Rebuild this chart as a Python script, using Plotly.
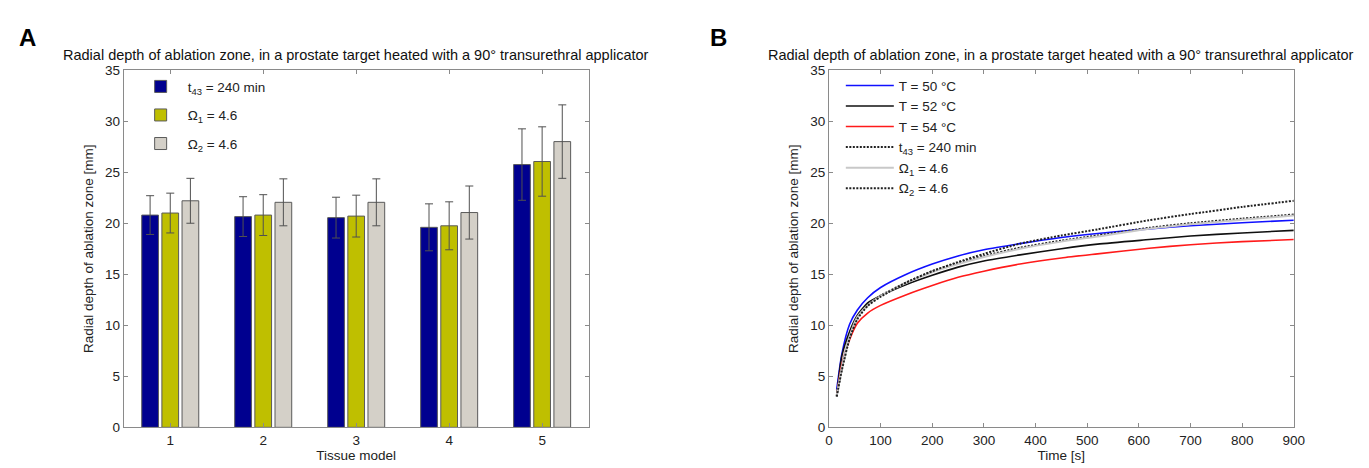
import plotly.graph_objects as go

# ---------------- Panel A data ----------------
tissue_models = [1, 2, 3, 4, 5]
t43_depth = [20.8, 20.65, 20.55, 19.6, 25.75]
t43_err = [1.9, 1.95, 2.0, 2.3, 3.5]
omega1_depth = [21.0, 20.8, 20.7, 19.75, 26.05]
omega1_err = [1.95, 2.0, 2.05, 2.35, 3.4]
omega2_depth = [22.2, 22.05, 22.05, 21.05, 28.0]
omega2_err = [2.2, 2.3, 2.3, 2.6, 3.6]

# ---------------- Panel B data ----------------
time_s = [15, 25, 40, 55, 75, 100, 150, 200, 250, 300, 370, 450, 520, 620, 700, 800, 900]
T50 = [3.7, 7.2, 10.1, 11.5, 12.7, 13.7, 15.0, 16.0, 16.8, 17.4, 18.0, 18.6, 19.0, 19.45, 19.75, 20.05, 20.3]
T52 = [3.1, 7.0, 9.4, 11.0, 12.2, 12.9, 14.0, 14.9, 15.7, 16.3, 16.9, 17.5, 17.95, 18.4, 18.75, 19.05, 19.3]
T54 = [3.1, 6.2, 8.6, 10.2, 11.2, 11.95, 13.0, 13.9, 14.7, 15.3, 16.0, 16.6, 17.0, 17.55, 17.9, 18.2, 18.4]
t43_curve = [3.1, 5.8, 8.9, 10.8, 12.0, 12.9, 14.2, 15.3, 16.1, 16.8, 17.6, 18.3, 18.8, 19.55, 20.0, 20.45, 20.85]
omega1_curve = [3.1, 5.9, 8.9, 10.8, 11.95, 12.85, 14.15, 15.2, 16.0, 16.7, 17.5, 18.2, 18.7, 19.45, 19.9, 20.35, 20.75]
omega2_curve = [3.0, 5.6, 8.7, 10.6, 11.9, 12.8, 14.2, 15.3, 16.2, 17.0, 18.0, 18.8, 19.4, 20.3, 20.9, 21.6, 22.2]

TITLE = "Radial depth of ablation zone, in a prostate target heated with a 90\u00b0 transurethral applicator"
YTITLE = "Radial depth of ablation zone [mm]"
FONT = "Liberation Sans, Arial, sans-serif"
TXT = "#222222"
W, H = 1369, 468

# plot-area pixel geometry
ax_a = (113, 583)
ax_b = (826, 1296)
y_top, y_bot = 57, 426

fig = go.Figure()

bar_colors = ["#00008f", "#bfbf00", "#d4d0c8"]
bar_names = ["t<sub>43</sub> = 240 min", "\u03a9<sub>1</sub> = 4.6", "\u03a9<sub>2</sub> = 4.6"]
bar_vals = [t43_depth, omega1_depth, omega2_depth]
bar_errs = [t43_err, omega1_err, omega2_err]
for name, col, vals, errs in zip(bar_names, bar_colors, bar_vals, bar_errs):
    fig.add_trace(go.Bar(
        x=tissue_models, y=vals, name=name, xaxis="x", yaxis="y",
        marker=dict(color=col, line=dict(color="#5a5a5a", width=1)),
        error_y=dict(type="data", array=errs, visible=True, color="#505050", thickness=1, width=4),
        legend="legend", legendgroup=name,
    ))

DOTS = "2px,1.5px"
line_specs = [
    ("T = 50 \u00b0C", T50, dict(color="#1010ff", width=1.6)),
    ("T = 52 \u00b0C", T52, dict(color="#101010", width=1.6)),
    ("T = 54 \u00b0C", T54, dict(color="#ff1a1a", width=1.6)),
    ("t<sub>43</sub> = 240 min", t43_curve, dict(color="#202020", width=2, dash=DOTS)),
    ("\u03a9<sub>1</sub> = 4.6", omega1_curve, dict(color="#c8c8c8", width=2)),
    ("\u03a9<sub>2</sub> = 4.6", omega2_curve, dict(color="#202020", width=2, dash=DOTS)),
]
for name, vals, ln in line_specs:
    fig.add_trace(go.Scatter(
        x=time_s, y=vals, name=name, mode="lines", line=dict(shape="spline", smoothing=0.6, **ln),
        xaxis="x2", yaxis="y2", legend="legend2",
    ))

axis_common = dict(
    showline=True, linecolor="#8a8a8a", linewidth=1, mirror="ticks",
    ticks="inside", ticklen=4, tickcolor="#8a8a8a",
    showgrid=False, zeroline=False,
    tickfont=dict(family=FONT, size=13.5, color=TXT),
    title_font=dict(family=FONT, size=13.5, color=TXT),
)

ydom = [1 - y_bot / H, 1 - y_top / H]
fig.update_layout(
    width=W, height=H,
    margin=dict(l=0, r=0, t=0, b=0),
    paper_bgcolor="white", plot_bgcolor="white",
    font=dict(family=FONT, size=13, color=TXT),
    barmode="group", bargap=0.35, bargroupgap=0.17,
    xaxis=dict(domain=[ax_a[0] / W, ax_a[1] / W], range=[0.5, 5.5], tickvals=tissue_models,
               title=dict(text="Tissue model", standoff=2), anchor="y", **axis_common),
    yaxis=dict(domain=ydom, range=[0, 35], dtick=5, anchor="x",
               title=dict(text=YTITLE, standoff=8), **axis_common),
    xaxis2=dict(domain=[ax_b[0] / W, ax_b[1] / W], range=[0, 900], dtick=100, anchor="y2",
                title=dict(text="Time [s]", standoff=2), **axis_common),
    yaxis2=dict(domain=ydom, range=[0, 35], dtick=5, anchor="x2",
                title=dict(text=YTITLE, standoff=8), **axis_common),
    legend=dict(x=(ax_a[0] + 10) / W, y=1 - 58 / H, xanchor="left", yanchor="top",
                bgcolor="rgba(255,255,255,0)", font=dict(family=FONT, size=13.5, color=TXT),
                tracegroupgap=8, itemwidth=44),
    legend2=dict(x=(ax_b[0] + 12) / W, y=1 - 57 / H, xanchor="left", yanchor="top",
                 bgcolor="rgba(255,255,255,0)", font=dict(family=FONT, size=13.5, color=TXT),
                 tracegroupgap=0, itemwidth=48),
    annotations=[
        dict(text="<b>A</b>", x=16 / W, y=1 - 23 / H, xref="paper", yref="paper", xanchor="center",
             yanchor="middle", showarrow=False, font=dict(family=FONT, size=24, color="black")),
        dict(text="<b>B</b>", x=714 / W, y=1 - 23 / H, xref="paper", yref="paper", xanchor="center",
             yanchor="middle", showarrow=False, font=dict(family=FONT, size=24, color="black")),
        dict(text=TITLE, x=(ax_a[0] + ax_a[1]) / 2 / W, y=1 - 41 / H, xref="paper", yref="paper",
             xanchor="center", yanchor="middle", showarrow=False,
             font=dict(family=FONT, size=14.5, color="#111111")),
        dict(text=TITLE, x=(ax_b[0] + ax_b[1]) / 2 / W, y=1 - 41 / H, xref="paper", yref="paper",
             xanchor="center", yanchor="middle", showarrow=False,
             font=dict(family=FONT, size=14.5, color="#111111")),
    ],
)

fig.write_html("out.html")
